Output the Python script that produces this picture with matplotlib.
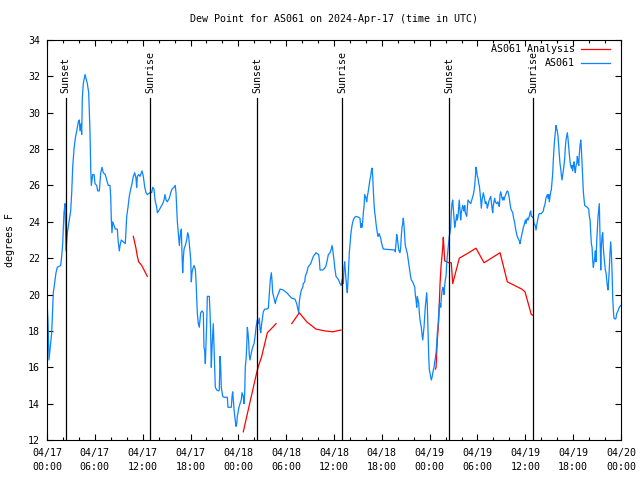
"""Dew point chart for AS061 (gnuplot-style look)."""
import matplotlib
matplotlib.use("Agg")
import matplotlib.pyplot as plt
from matplotlib.transforms import blended_transform_factory

NAN = float("nan")

TITLE = "Dew Point for AS061 on 2024-Apr-17 (time in UTC)"
YLABEL = "degrees F"

# hours since 04/17 00:00 UTC
OBS_HOURS = [
    0.00, 0.13, 0.25, 0.38, 0.59, 0.79, 1.13, 1.29, 1.72, 1.84, 1.97, 2.13, 2.26, 2.38, 2.55,
    2.80, 2.97, 3.10, 3.22, 3.39, 3.55, 3.73, 3.93, 4.05, 4.14, 4.27, 4.35, 4.43, 4.55, 4.77,
    4.89, 5.06, 5.23, 5.39, 5.48, 5.56, 5.73, 5.90, 6.02, 6.23, 6.36, 6.56, 6.74, 6.90, 7.06,
    7.31, 7.49, 7.69, 7.90, 7.99, 8.07, 8.15, 8.24, 8.40, 8.57, 8.82, 8.91, 9.07, 9.16, 9.32,
    9.57, 9.82, 10.00, 10.16, 10.32, 10.50, 10.66, 10.83, 11.00, 11.16, 11.25, 11.33, 11.50,
    11.67, 11.92, 12.08, 12.26, 12.42, 12.58, 12.92,
    13.13, 13.26, 13.42, 13.55, 13.76, 13.84, 14.01, 14.26, 14.51, 14.68, 14.80, 14.93, 15.09,
    15.34, 15.52, 15.68, 15.93, 16.09, 16.18, 16.27, 16.35, 16.52, 16.60, 16.72, 16.85, 16.93,
    17.02, 17.10, 17.19, 17.35, 17.52, 17.65, 17.77, 17.85, 17.94, 18.03, 18.10, 18.19, 18.28,
    18.44, 18.60, 18.69, 18.78, 18.85, 18.98, 19.10, 19.28, 19.44, 19.61, 19.69, 19.78, 19.86,
    19.95, 20.03, 20.11, 20.36, 20.45, 20.53, 20.61, 20.70, 20.86, 20.95, 21.04, 21.11, 21.29,
    21.54, 21.61, 21.70, 21.79, 21.86, 22.04, 22.20, 22.62, 22.70, 23.12, 23.21, 23.29, 23.37,
    23.46, 23.55, 23.71, 23.80, 23.87, 23.96, 24.05, 24.21, 24.37, 24.46, 24.62, 24.71, 24.80,
    24.87, 24.96, 25.05, 25.13, 25.21, 25.30, 25.37, 25.46,
    25.63, 25.80, 25.97, 26.13, 26.22, 26.38, 26.51, 26.63, 26.72, 26.81, 26.93, 27.13, 27.31,
    27.56, 27.76, 27.89, 28.01, 28.14, 28.22, 28.31, 28.48, 28.64, 28.73, 28.89, 29.07, 29.23,
    29.64, 30.07, 30.27, 30.48, 30.70, 31.11, 31.32, 31.49, 31.57, 31.65, 31.74, 31.90, 32.08,
    32.15, 32.33, 32.40, 32.58, 32.74, 32.90, 33.08, 33.24, 33.41, 33.58, 33.74, 34.08, 34.16,
    34.25, 34.58, 34.83, 35.00, 35.16, 35.29, 35.50, 35.66, 35.75, 35.84, 35.91, 36.00, 36.09,
    36.25, 36.42, 36.59, 36.75, 36.92, 37.00, 37.09, 37.17, 37.26, 37.34, 37.42, 37.51, 37.59,
    37.67, 37.76, 37.85, 37.92, 38.01,
    38.13, 38.26, 38.42, 38.60, 38.76, 39.10, 39.26, 39.35, 39.43, 39.51, 39.60, 39.68, 39.77,
    39.85, 39.93, 40.02, 40.10, 40.18, 40.27, 40.35, 40.43, 40.52, 40.60, 40.68, 40.77, 40.86,
    40.93, 41.02, 41.11, 41.18, 41.27, 41.36, 41.43, 41.52, 41.61, 41.68, 41.77, 41.86, 41.93,
    42.11, 42.19, 43.62, 43.69, 43.78, 43.87, 43.94, 44.03, 44.12, 44.28, 44.37, 44.44, 44.53,
    44.62, 44.69, 44.78, 44.87, 44.94, 45.03, 45.20, 45.28, 45.37, 45.45, 45.54, 45.62, 45.70,
    45.87, 46.04, 46.13, 46.20, 46.29, 46.38, 46.45, 46.54, 46.63, 46.70, 46.79, 46.95, 47.04,
    47.13, 47.20, 47.29, 47.38, 47.45, 47.54, 47.63, 47.70, 47.79, 47.88, 47.96, 48.04, 48.13,
    48.21, 48.30, 48.38, 48.46, 48.55, 48.63, 48.71, 48.80, 48.89, 48.96, 49.05, 49.14, 49.21,
    49.30, 49.39, 49.46, 49.55, 49.64, 49.71, 49.80, 49.89, 49.96, 50.05, 50.14, 50.21, 50.30,
    50.39, 50.46, 50.55,
    50.64, 50.71, 50.80, 50.89, 50.96, 51.05, 51.14, 51.21, 51.30, 51.39, 51.46, 51.55, 51.64,
    51.71, 51.81, 51.89, 51.97, 52.06, 52.14, 52.22, 52.31, 52.40, 52.47, 52.56, 52.65, 52.72,
    52.81, 52.97, 53.15, 53.31, 53.48, 53.56, 53.65, 53.72, 53.81, 53.90, 53.98, 54.07, 54.15,
    54.23, 54.32, 54.41, 54.48, 54.57, 54.66, 54.73, 54.82, 54.91, 54.98, 55.07, 55.16, 55.23,
    55.32, 55.41, 55.48, 55.57, 55.66, 55.73, 55.82, 55.91, 55.98, 56.07, 56.16, 56.23, 56.41,
    56.57, 56.66, 56.74, 56.83, 56.91, 56.99, 57.08, 57.16, 57.24, 57.33, 57.42, 57.49, 57.58,
    57.67, 57.74, 57.83, 57.92, 57.99, 58.08, 58.17, 58.24, 58.42, 58.49, 58.58, 58.67, 58.74,
    58.83, 58.92, 58.99, 59.08, 59.25, 59.33, 59.42, 59.50, 59.58, 59.67, 59.75, 59.84, 59.92,
    60.00, 60.09, 60.17, 60.25, 60.34, 60.50, 60.59, 60.68, 60.75, 60.84,
    61.00, 61.09, 61.25, 61.34, 61.43, 61.50, 61.59, 61.68, 61.75, 62.01, 62.09, 62.26, 62.34,
    62.43, 62.51, 62.59, 62.76, 62.85, 62.93, 63.01, 63.10, 63.18, 63.26, 63.35, 63.44, 63.51,
    63.60, 63.69, 63.76, 63.85, 63.94, 64.01, 64.10, 64.19, 64.26, 64.35, 64.44, 64.51, 64.60,
    64.69, 64.77, 64.85, 64.94, 65.02, 65.10, 65.19, 65.27, 65.35, 65.44, 65.52, 65.61, 65.69,
    65.77, 65.86, 65.94, 66.02, 66.11, 66.19, 66.27, 66.36, 66.45, 66.52, 66.61, 66.70, 66.77,
    66.86, 66.95, 67.02, 67.11, 67.20, 67.27, 67.36, 67.45, 67.61, 67.78, 67.95, 68.03, 68.12,
    68.20, 68.28, 68.37, 68.45, 68.53, 68.62, 68.70, 68.78, 68.86, 68.95, 69.03, 69.12, 69.20,
    69.28, 69.37, 69.46, 69.53, 69.62, 69.71, 69.78, 69.87, 69.96, 70.03, 70.12, 70.21, 70.28,
    70.37, 70.46, 70.53, 70.62, 70.71, 70.79, 70.88, 70.96, 71.04, 71.12, 71.29, 71.37, 71.46,
    71.62, 71.79, 71.96,
]
OBS_DEWPT = [
    19.7, 18.5, 16.4, 17.0, 17.9, 20.1, 21.2, 21.5, 21.6, 22.1, 22.8, 24.5, 25.0, 22.4, 23.4,
    24.1, 24.6, 25.6, 27.0, 28.0, 28.6, 29.0, 29.5, 29.6, 29.0, 29.4, 28.8, 30.8, 31.6, 32.1,
    31.9, 31.6, 31.1, 29.0, 27.0, 26.0, 26.6, 26.6, 26.1, 26.0, 25.7, 25.7, 26.7, 27.0, 26.7,
    26.6, 26.3, 26.0, 26.0, 25.4, 24.1, 23.4, 24.0, 23.8, 23.6, 23.6, 23.0, 22.4, 22.7, 23.0,
    22.9, 22.8, 24.3, 24.8, 25.4, 25.8, 26.1, 26.5, 26.7, 26.4, 25.9, 26.5, 26.6,
    26.5, 26.8, 26.5, 25.9, 25.6, 25.5, 25.6,
    25.6, 25.9, 25.8, 25.2, 24.8, 24.5, 24.6, 24.8, 25.0, 25.2, 25.5, 25.2, 25.1,
    25.3, 25.6, 25.8, 25.9, 26.0, 25.6, 24.8, 24.0, 23.1, 22.7, 23.3, 23.6, 22.3,
    21.2, 22.0, 22.5, 22.7, 23.0, 23.4, 23.2, 22.8, 22.3, 21.9, 20.7, 21.2, 21.4,
    21.6, 21.4, 20.8, 19.7, 19.0, 18.4, 18.2, 19.0, 19.1, 19.0, 17.1, 16.9, 16.2,
    17.3, 18.4, 19.9, 19.9, 19.0, 17.9, 16.0, 17.1, 18.4, 17.1, 16.0, 14.9, 14.75,
    14.7, 14.75, 16.6, 16.0, 14.9, 14.4, 14.35, 14.35, 13.8, 13.8, 14.4, 14.65, 14.2,
    13.7, 13.3, 12.75, 12.9, 13.3, 13.5, 13.75, 14.0, 14.2, 14.6, 14.4, 14.0, 14.6,
    16.0, 16.4, 17.1, 18.2, 17.9, 17.4, 16.7, 16.4,
    16.8, 17.1, 17.3, 17.8, 18.2, 18.6, 18.4, 18.7, 18.1, 17.9, 18.4, 19.05, 19.2,
    19.2, 19.25, 20.1, 20.8, 21.2, 20.8, 20.1, 19.8, 19.5, 19.7, 19.9, 20.1, 20.3,
    20.25, 20.1, 20.0, 19.9, 19.8, 19.75, 19.5, 19.15, 19.0, 19.6, 19.9, 20.25, 20.4,
    20.6, 20.7, 21.0, 21.2, 21.5, 21.6, 21.7, 21.9, 22.1, 22.2, 22.3, 22.2, 21.9,
    21.35, 21.35, 21.45, 21.6, 21.9, 22.2, 22.3, 22.5, 22.7, 22.5, 22.2, 21.9, 21.5,
    21.0, 20.9, 20.8, 20.6, 20.5, 20.8, 20.9, 20.6, 21.5, 21.8, 21.3, 20.8, 20.4,
    20.1, 20.8, 21.7, 22.3, 22.8,
    23.4, 23.8, 24.1, 24.25, 24.3, 24.25, 24.2, 23.7, 23.9, 23.7, 24.0, 24.5, 24.85,
    25.5, 25.4, 25.3, 25.1, 25.4, 25.6, 25.85, 26.1, 26.35, 26.5, 26.8, 26.95, 26.5,
    25.75, 25.0, 24.5, 24.3, 23.9, 23.6, 23.4, 23.2, 23.3, 23.35, 23.2, 23.1, 22.9,
    22.6, 22.5, 22.45, 22.35, 22.8, 23.3, 23.1, 22.8, 22.45, 22.3, 22.6, 23.2, 23.7,
    23.9, 24.2, 23.8, 23.2, 22.7, 22.55, 22.25, 22.0, 21.7, 21.5, 21.2, 20.95, 20.8,
    20.7, 20.5, 20.4, 20.0, 19.7, 19.3, 19.9, 19.7, 19.5, 19.0, 18.6, 18.2, 17.8,
    17.5, 17.8, 18.2, 18.8, 19.3, 19.7, 20.1, 19.5, 18.05, 16.6, 15.85, 15.7, 15.45,
    15.3, 15.45, 15.65, 15.85, 16.0, 16.3, 16.5, 16.8, 17.3, 17.9, 18.3, 19.0, 19.5,
    19.5, 19.3, 19.8, 20.2, 20.4, 20.3, 20.0, 20.5, 20.8, 21.0, 21.7, 22.1, 22.5,
    22.9, 23.2, 23.4,
    23.7, 24.5, 25.0, 25.2, 24.8, 24.3, 23.7, 23.9, 24.1, 24.4, 24.1, 24.3, 24.8,
    25.2, 24.6, 24.1, 24.5, 24.7, 24.9, 24.8, 24.6, 24.9, 24.5, 24.4, 24.3, 24.75,
    25.2, 25.1, 25.0, 25.25, 25.5, 25.7, 26.0, 26.4, 27.0, 26.8, 26.5, 26.4, 26.1,
    26.0, 25.6, 25.2, 24.75, 25.2, 25.4, 25.6, 25.4, 25.2, 25.0, 25.1, 25.0, 24.75,
    24.9, 25.1, 25.2, 25.3, 25.4, 25.1, 24.75, 24.5, 24.9, 25.1, 25.3, 25.1, 25.0,
    25.1, 24.9, 24.85, 25.5, 25.65, 25.5, 25.3, 25.2, 25.35, 25.2, 25.35, 25.45, 25.55,
    25.65, 25.7, 25.65, 25.45, 25.3, 25.0, 24.75, 24.65, 24.5, 24.3, 24.1, 23.95, 23.7,
    23.5, 23.3, 23.2, 23.1, 22.95, 22.8, 23.0, 23.2, 23.35, 23.5, 23.7, 23.8, 23.95,
    24.1, 23.9, 24.1, 24.2, 24.1, 24.3, 24.5, 24.6, 24.3, 24.3,
    24.2, 23.9, 23.8, 23.55, 23.8, 24.0, 24.2, 24.4, 24.45, 24.45, 24.5, 24.6, 24.8,
    24.9, 25.1, 25.3, 25.5, 25.3, 25.5, 25.1, 25.4, 25.65, 25.75, 26.2, 26.7, 27.4,
    28.1, 28.6, 28.9, 29.3, 29.1, 29.0, 28.7, 28.1, 27.7, 27.2, 26.9, 26.6, 26.3,
    26.6, 26.9, 27.1, 27.5, 28.1, 28.5, 28.7, 28.9, 28.6, 28.1, 27.7, 27.3, 27.1,
    26.95, 27.1, 26.8, 27.1, 27.3, 26.9, 26.7, 27.1, 27.2, 27.6, 27.3, 27.1, 27.7,
    28.2, 28.5, 28.1, 27.3, 26.4, 25.7, 25.25, 24.9, 24.85, 24.8, 24.7, 24.3, 24.1,
    23.45, 22.8, 22.6, 21.9, 21.5, 21.8, 22.0, 22.4, 21.8, 22.9, 23.55, 24.3, 24.65,
    25.0, 23.2, 21.35, 22.6, 23.2, 23.4, 22.6, 22.1, 21.7, 21.35, 21.2, 20.8, 20.5,
    20.25, 20.8, 21.4, 22.3, 22.9, 22.3, 21.2, 19.8, 19.15, 18.7, 18.65, 18.7, 18.95,
    19.1, 19.3, 19.4,
]

# analysis series, NaN marks the gaps
ANL_HOURS = [
    10.83, 11.16, 11.33, 11.50, 11.88, 12.58, NAN,
    24.62, 26.30, 26.55, 26.93, 27.64, 28.31, 28.73, NAN,
    30.70, 31.65, 32.58, 33.74, 34.87, 35.84, 36.88, NAN,
    48.73, 48.80, 48.96, 49.14, 49.30, 49.42, 49.64, 49.71, 49.89, 50.39, 50.71, 50.89,
    51.72, 52.90, 53.81, 54.82, 56.83, 57.74, 59.55, 59.96, 60.75, 61.00,
]
ANL_DEWPT = [
    23.2, 22.55, 22.1, 21.8, 21.6, 21.0, NAN,
    12.45, 15.7, 16.1, 16.6, 17.9, 18.2, 18.4, NAN,
    18.4, 19.0, 18.5, 18.1, 18.0, 17.95, 18.05, NAN,
    15.9, 16.0, 17.5, 18.6, 20.6, 21.5, 22.6, 23.15, 21.85, 21.75, 21.75, 20.6,
    22.0, 22.3, 22.55, 21.75, 22.3, 20.7, 20.3, 20.15, 18.9, 18.85,
]

SUN_LABELS = ["Sunset", "Sunrise", "Sunset", "Sunrise", "Sunset", "Sunrise"]
SUN_HOURS = [2.35, 12.96, 26.38, 37.05, 50.46, 61.00]

XTICK_HOURS = list(range(0, 73, 6))
XTICK_LABELS = [
    "04/17\n00:00", "04/17\n06:00", "04/17\n12:00", "04/17\n18:00",
    "04/18\n00:00", "04/18\n06:00", "04/18\n12:00", "04/18\n18:00",
    "04/19\n00:00", "04/19\n06:00", "04/19\n12:00", "04/19\n18:00",
    "04/20\n00:00",
]
YTICKS = list(range(12, 35, 2))

BLUE = "#0a84ff"
RED = "#ff0000"

plt.rcParams["font.family"] = ["DejaVu Sans Mono"]
plt.rcParams["font.size"] = 7.2

fig = plt.figure(figsize=(6.4, 4.8), dpi=100)
ax = fig.add_axes([47 / 640, 40 / 480, 574 / 640, 400 / 480])

ax.plot(ANL_HOURS, ANL_DEWPT, color=RED, lw=0.9)
ax.plot(OBS_HOURS, OBS_DEWPT, color=BLUE, lw=0.9)

trans = blended_transform_factory(ax.transData, ax.transAxes)
for lbl, h in zip(SUN_LABELS, SUN_HOURS):
    ax.axvline(h, ymin=0, ymax=0.855, color="black", lw=0.9)
    ax.text(h, 0.868, lbl, transform=trans, rotation=90,
            ha="center", va="bottom")

ax.set_xlim(0, 72)
ax.set_ylim(12, 34)
ax.set_xticks(XTICK_HOURS)
ax.set_xticklabels(XTICK_LABELS, linespacing=1.4)
ax.set_xticks(range(0, 73, 2), minor=True)
ax.set_yticks(YTICKS)
ax.tick_params(which="both", direction="in", top=True, right=True, width=0.8)
ax.tick_params(which="major", length=4)
ax.tick_params(which="minor", length=2)
ax.tick_params(axis="x", pad=6)
ax.tick_params(axis="y", pad=5)
for s in ax.spines.values():
    s.set_linewidth(0.8)

# gnuplot-like key: text right-aligned, sample line after it
for i, (name, col) in enumerate([("AS061 Analysis", RED), ("AS061", BLUE)]):
    yk = 0.977 - i * 0.035
    ax.text(0.920, yk, name, transform=ax.transAxes, ha="right", va="center")
    ax.plot([0.930, 0.981], [yk, yk], transform=ax.transAxes, color=col, lw=0.9)

fig.text(334 / 640, 1 - 19 / 480, TITLE, ha="center", va="center")
fig.text(10 / 640, 0.5, YLABEL, rotation=90, ha="center", va="center")

fig.savefig("out.png", dpi=100)
